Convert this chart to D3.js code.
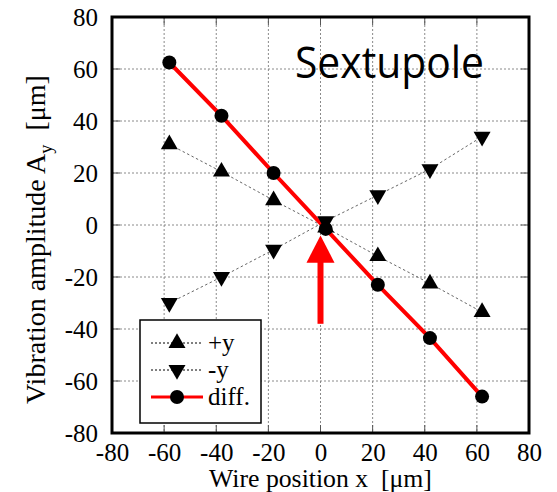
<!DOCTYPE html>
<html>
<head>
<meta charset="utf-8">
<script src="https://cdn.jsdelivr.net/npm/d3@7"></script>
<style>
  html, body { margin: 0; padding: 0; background: #fff; }
  svg { display: block; }
</style>
</head>
<body>
<svg id="chart" width="557" height="492"></svg>
<script>
// Wire positions (μm) and measured vibration amplitudes (μm)
const wirePositions = [-58, -38, -18, 2, 22, 42, 62];
const plusY  = [31, 20.5, 9.5, -1, -12, -22.5, -33.5];
const minusY = [-30, -20, -9.5, 1.5, 11.5, 21.5, 34];
const diff   = [62.5, 42, 20, -1.5, -23, -43.5, -66];

const xTicks = [-80, -60, -40, -20, 0, 20, 40, 60, 80];
const yTicks = [-80, -60, -40, -20, 0, 20, 40, 60, 80];

// Marker arrow at the magnetic centre
const arrowX = 0, arrowTail = -38, arrowHeadBase = -14.5, arrowTip = -4;

(function draw() {
  const svg = d3.select("#chart");
  const pL = 112, pR = 529, pT = 17, pB = 433;
  const serif = "'Liberation Serif', 'Times New Roman', serif";
  const plain = d => String(d);   // hyphen-minus labels

  const x = d3.scaleLinear().domain([-80, 80]).range([pL, pR]);
  const y = d3.scaleLinear().domain([-80, 80]).range([pB, pT]);

  // fit a text element to a target length by adjusting its font size
  function fitText(sel, size, target) {
    sel.attr("font-size", size);
    const w = sel.node().getComputedTextLength();
    sel.attr("font-size", size * target / w);
  }

  // grid
  const grid = svg.append("g");
  grid.selectAll(".gx").data(xTicks.slice(1, -1)).join("line")
    .attr("x1", d => x(d)).attr("x2", d => x(d)).attr("y1", pT).attr("y2", pB)
    .attr("stroke", "#8a8a8a").attr("stroke-width", 1).attr("stroke-dasharray", "2,2");
  grid.selectAll(".gy").data(yTicks.slice(1, -1)).join("line")
    .attr("y1", d => y(d)).attr("y2", d => y(d)).attr("x1", pL).attr("x2", pR)
    .attr("stroke", "#8a8a8a").attr("stroke-width", 1).attr("stroke-dasharray", "2,2");

  // inward ticks on all four sides
  const tk = svg.append("g").attr("stroke", "#555").attr("stroke-width", 1);
  xTicks.slice(1, -1).forEach(d => {
    tk.append("line").attr("x1", x(d)).attr("x2", x(d)).attr("y1", pB).attr("y2", pB - 8);
    tk.append("line").attr("x1", x(d)).attr("x2", x(d)).attr("y1", pT).attr("y2", pT + 8);
  });
  yTicks.slice(1, -1).forEach(d => {
    tk.append("line").attr("y1", y(d)).attr("y2", y(d)).attr("x1", pL).attr("x2", pL + 8);
    tk.append("line").attr("y1", y(d)).attr("y2", y(d)).attr("x1", pR).attr("x2", pR - 8);
  });

  // axes (labels only; frame drawn separately)
  const xAxis = svg.append("g").attr("transform", `translate(0,${pB})`)
    .call(d3.axisBottom(x).tickValues(xTicks).tickFormat(plain).tickSize(0));
  const yAxis = svg.append("g").attr("transform", `translate(${pL},0)`)
    .call(d3.axisLeft(y).tickValues(yTicks).tickFormat(plain).tickSize(0).tickPadding(14));
  [xAxis, yAxis].forEach(a => {
    a.select(".domain").remove();
    a.selectAll("text").attr("font-family", serif).attr("font-size", 25).attr("fill", "#000");
  });
  xAxis.selectAll("text").attr("dy", null).attr("y", 28);
  yAxis.selectAll("text").attr("dy", "0.34em");

  // data lines
  const line = vals => d3.line().x((d, i) => x(wirePositions[i])).y(d => y(d))(vals);
  const plot = svg.append("g");
  plot.append("path").attr("d", line(plusY)).attr("fill", "none")
    .attr("stroke", "#666").attr("stroke-width", 1).attr("stroke-dasharray", "2.5,2.5");
  plot.append("path").attr("d", line(minusY)).attr("fill", "none")
    .attr("stroke", "#666").attr("stroke-width", 1).attr("stroke-dasharray", "2.5,2.5");
  plot.append("path").attr("d", line(diff)).attr("fill", "none")
    .attr("stroke", "#ff0000").attr("stroke-width", 4);

  const triUp = d3.symbol().type(d3.symbolTriangle).size(125)();
  plot.selectAll(".up").data(plusY).join("path")
    .attr("d", triUp)
    .attr("transform", (d, i) => `translate(${x(wirePositions[i])},${y(d)})`)
    .attr("fill", "#000");
  plot.selectAll(".down").data(minusY).join("path")
    .attr("d", triUp)
    .attr("transform", (d, i) => `translate(${x(wirePositions[i])},${y(d)}) rotate(180)`)
    .attr("fill", "#000");
  plot.selectAll(".dot").data(diff).join("circle")
    .attr("cx", (d, i) => x(wirePositions[i])).attr("cy", d => y(d))
    .attr("r", 7).attr("fill", "#000");

  // red arrow
  const ax = x(arrowX);
  svg.append("line")
    .attr("x1", ax).attr("x2", ax).attr("y1", y(arrowTail)).attr("y2", y(arrowHeadBase) - 1)
    .attr("stroke", "#ff0000").attr("stroke-width", 6);
  svg.append("path")
    .attr("d", `M${ax - 14},${y(arrowHeadBase)} L${ax + 14},${y(arrowHeadBase)} L${ax},${y(arrowTip)} Z`)
    .attr("fill", "#ff0000");

  // frame
  svg.append("rect").attr("x", pL).attr("y", pT)
    .attr("width", pR - pL).attr("height", pB - pT)
    .attr("fill", "none").attr("stroke", "#000").attr("stroke-width", 3);

  // title inside the plot: a tall, slightly condensed sans face
  const title = svg.append("text").attr("x", 0).attr("y", 0)
    .attr("font-family", "'Open Sans', 'Noto Sans', sans-serif").attr("font-size", 43)
    .attr("fill", "#000").text("Sextupole");
  const tw = title.node().getComputedTextLength();
  title.attr("transform", `translate(295,78) scale(${189 / tw},1)`);

  // legend
  const lg = svg.append("g");
  lg.append("rect").attr("x", 140).attr("y", 320).attr("width", 121).attr("height", 103)
    .attr("fill", "#fff").attr("stroke", "#000").attr("stroke-width", 1.5);
  const legendItems = [
    { label: "+y", type: "up", yy: 343 },
    { label: "-y", type: "down", yy: 370 },
    { label: "diff.", type: "dot", yy: 397 }
  ];
  legendItems.forEach(it => {
    if (it.type === "dot") {
      lg.append("line").attr("x1", 151).attr("x2", 203).attr("y1", it.yy).attr("y2", it.yy)
        .attr("stroke", "#ff0000").attr("stroke-width", 3);
      lg.append("circle").attr("cx", 177).attr("cy", it.yy).attr("r", 7).attr("fill", "#000");
    } else {
      lg.append("line").attr("x1", 151).attr("x2", 203).attr("y1", it.yy).attr("y2", it.yy)
        .attr("stroke", "#000").attr("stroke-width", 1).attr("stroke-dasharray", "2,2");
      lg.append("path").attr("d", triUp)
        .attr("transform", `translate(177,${it.yy})` + (it.type === "down" ? " rotate(180)" : ""))
        .attr("fill", "#000");
    }
    lg.append("text").attr("x", 208).attr("y", it.yy + 8)
      .attr("font-family", serif).attr("font-size", 25).attr("fill", "#000").text(it.label);
  });

  // axis titles
  const xt = svg.append("text").attr("x", 320.5).attr("y", 487).attr("text-anchor", "middle")
    .attr("font-family", serif).attr("fill", "#000")
    .attr("xml:space", "preserve")
    .text("Wire position x  [\u03bcm]");
  fitText(xt, 25, 223);

  const yt = svg.append("text")
    .attr("transform", "translate(45,239.5) rotate(-90)")
    .attr("text-anchor", "middle")
    .attr("font-family", serif).attr("font-size", 26).attr("fill", "#000")
    .attr("xml:space", "preserve");
  yt.append("tspan").text("Vibration amplitude A");
  yt.append("tspan").attr("font-size", 17).attr("dy", 7).text("y");
  yt.append("tspan").attr("dy", -7).text("  [\u03bcm]");
  const yw = yt.node().getComputedTextLength();
  const ys = 329 / yw;
  yt.attr("font-size", 26 * ys);
  yt.selectAll("tspan").filter((d, i) => i === 1).attr("font-size", 17 * ys);
})();
</script>
</body>
</html>
